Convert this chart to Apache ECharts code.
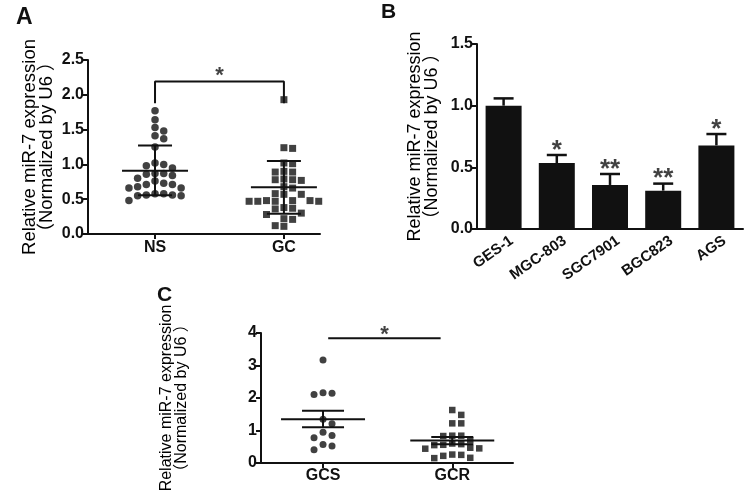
<!DOCTYPE html>
<html><head><meta charset="utf-8">
<script src="https://cdn.jsdelivr.net/npm/echarts@6/dist/echarts.min.js"></script>
<style>html,body{margin:0;padding:0;background:#fff}#c{width:750px;height:502px}</style>
</head><body><div id="c"></div>
<script>
// ---------------- data ----------------
const catsA = ['NS', 'GC'];
const nsValues = [1.77, 1.64, 1.53, 1.48, 1.41, 1.37, 1.25, 1.02, 1.00, 0.98, 0.95, 0.87, 0.87, 0.86, 0.84, 0.80,
  0.76, 0.73, 0.71, 0.71, 0.68, 0.66, 0.66, 0.58, 0.58, 0.56, 0.56, 0.55, 0.55, 0.48];
const gcValues = [1.93, 1.24, 1.23, 1.02, 1.01, 0.90, 0.89, 0.89, 0.79, 0.78, 0.78, 0.77, 0.68, 0.66, 0.58, 0.57,
  0.57, 0.48, 0.48, 0.47, 0.47, 0.47, 0.47, 0.48, 0.38, 0.37, 0.36, 0.30, 0.28, 0.22, 0.21, 0.12, 0.11];
const meanA = [0.91, 0.67];
const lowA = [0.555, 0.29];
const highA = [1.27, 1.05];
const yTicksA = [0, 0.5, 1.0, 1.5, 2.0, 2.5];
const bracketA = [1.88, 2.19];   // leg bottom, bracket top (values)
const starA = '*';

const catsB = ['GES-1', 'MGC-803', 'SGC7901', 'BGC823', 'AGS'];
const barB = [1.0, 0.535, 0.357, 0.311, 0.678];
const errB = [0.059, 0.065, 0.089, 0.057, 0.092];
const starsB = ['', '*', '**', '**', '*'];
const yTicksB = [0, 0.5, 1.0, 1.5];

const catsC = ['GCS', 'GCR'];
const gcsValues = [3.17, 2.16, 2.15, 2.11, 1.35, 1.21, 0.95, 0.85, 0.78, 0.57, 0.52, 0.41];
const gcrValues = [1.63, 1.48, 1.22, 1.22, 0.84, 0.84, 0.83, 0.70, 0.60, 0.58, 0.56, 0.55, 0.47, 0.45, 0.44,
  0.26, 0.25, 0.22, 0.16, 0.15];
const meanC = [1.35, 0.69];
const lowC = [1.10, 0.58];
const highC = [1.61, 0.80];
const yTicksC = [0, 1, 2, 3, 4];
const sigLineC = [1.04, 1.91, 3.84]; // from, to, value
const starC = '*';

const yTitle = 'Relative miR-7 expression\n（Normalized by U6 ）';

// ---------------- layout ----------------
const FONT = "'Liberation Sans', Arial, 'Noto Sans CJK SC', sans-serif";
const INK = '#111';
const GA = {left: 88, top: 60, width: 232, height: 174};
const GB = {left: 477, top: 44, width: 266, height: 185};
const GCg = {left: 261, top: 333, width: 252, height: 130};
const xRangeA = [0.48, 2.28];
const xRangeC = [0.52, 2.47];

function beeswarm(values, gx, pxY, pxX, stepPx, gapPx) {
  const sorted = values.slice().sort((a, b) => b - a);
  const placed = [];
  const out = [];
  sorted.forEach(v => {
    for (let k = 0; k < 40; k++) {
      const col = k === 0 ? 0 : (k % 2 ? Math.ceil(k / 2) : -k / 2);
      const clash = placed.some(q => q.col === col && Math.abs(q.v - v) * pxY < gapPx);
      if (!clash) { placed.push({col, v}); out.push([gx + col * stepPx / pxX, v]); break; }
    }
  });
  return out;
}

const pxYA = GA.height / (yTicksA[yTicksA.length - 1] - yTicksA[0]);
const pxXA = GA.width / (xRangeA[1] - xRangeA[0]);
const pxYC = GCg.height / (yTicksC[yTicksC.length - 1] - yTicksC[0]);
const pxXC = GCg.width / (xRangeC[1] - xRangeC[0]);

function statsRender(halfMean, halfCap, lw) {
  return function (params, api) {
    const x = api.value(0);
    const pm = api.coord([x, api.value(1)]);
    const pl = api.coord([x, api.value(2)]);
    const ph = api.coord([x, api.value(3)]);
    const style = {stroke: INK, lineWidth: lw};
    return {type: 'group', children: [
      {type: 'line', shape: {x1: pm[0] - halfMean, y1: pm[1], x2: pm[0] + halfMean, y2: pm[1]}, style},
      {type: 'line', shape: {x1: pl[0], y1: pl[1], x2: ph[0], y2: ph[1]}, style},
      {type: 'line', shape: {x1: pl[0] - halfCap, y1: pl[1], x2: pl[0] + halfCap, y2: pl[1]}, style},
      {type: 'line', shape: {x1: ph[0] - halfCap, y1: ph[1], x2: ph[0] + halfCap, y2: ph[1]}, style}
    ]};
  };
}

function errRender(params, api) {
  const i = api.value(0);
  const pb = api.coord([i, api.value(1)]);
  const pt = api.coord([i, api.value(2)]);
  const style = {stroke: INK, lineWidth: 2.5};
  return {type: 'group', children: [
    {type: 'line', shape: {x1: pb[0], y1: pb[1], x2: pt[0], y2: pt[1]}, style},
    {type: 'line', shape: {x1: pt[0] - 10, y1: pt[1], x2: pt[0] + 10, y2: pt[1]}, style}
  ]};
}

const axisLine = {show: true, onZero: false, lineStyle: {color: INK, width: 2}};
const tick = {show: true, length: 5, lineStyle: {color: INK, width: 2}};
const tickLabel = {color: INK, fontFamily: FONT, fontWeight: 'bold', fontSize: 16};

function yAx(grid, ticks, fmt, gap, fs) {
  return {
    type: 'value', gridIndex: grid, min: ticks[0], max: ticks[ticks.length - 1],
    interval: ticks[1] - ticks[0], splitLine: {show: false},
    axisLine, axisTick: tick,
    axisLabel: Object.assign({margin: 4, formatter: fmt}, tickLabel),
    name: yTitle, nameLocation: 'middle', nameRotate: 90, nameGap: gap,
    nameTextStyle: {color: '#000', fontFamily: FONT, fontSize: fs, lineHeight: fs - 1}
  };
}
function xVal(grid, range, cats, margin) {
  const vals = cats.map((c, i) => i + 1);
  return {
    type: 'value', gridIndex: grid, min: range[0], max: range[1], splitLine: {show: false},
    axisLine, axisTick: Object.assign({customValues: vals}, tick),
    axisLabel: Object.assign({customValues: vals, margin, formatter: v => cats[Math.round(v) - 1] || ''}, tickLabel)
  };
}

const option = {
  backgroundColor: '#fff',
  animation: false,
  title: [
    {text: 'A', left: 11, top: 1, textStyle: {fontFamily: FONT, fontSize: 23, fontWeight: 'bold', color: INK}},
    {text: 'B', left: 376, top: -3, textStyle: {fontFamily: FONT, fontSize: 21, fontWeight: 'bold', color: INK}},
    {text: 'C', left: 152, top: 280, textStyle: {fontFamily: FONT, fontSize: 21, fontWeight: 'bold', color: INK}}
  ],
  grid: [GA, GB, GCg].map(g => Object.assign({containLabel: false}, g)),
  xAxis: [
    xVal(0, xRangeA, catsA, 6),
    {type: 'category', gridIndex: 1, data: catsB, axisLine, axisTick: {show: false},
      axisLabel: Object.assign({}, tickLabel, {rotate: 35, margin: 16, interval: 0, fontSize: 15,
        padding: [0, -10, 0, 0]})},
    xVal(2, xRangeC, catsC, 5)
  ],
  yAxis: [
    yAx(0, yTicksA, v => v.toFixed(1), 32, 18.5),
    yAx(1, yTicksB, v => v.toFixed(1), 36, 18),
    yAx(2, yTicksC, v => String(v), 72, 16)
  ],
  series: [
    // ---- A ----
    {type: 'scatter', xAxisIndex: 0, yAxisIndex: 0, symbol: 'circle', symbolSize: 7.5,
      itemStyle: {color: INK}, data: beeswarm(nsValues, 1, pxYA, pxXA, 8.7, 7)},
    {type: 'scatter', xAxisIndex: 0, yAxisIndex: 0, symbol: 'rect', symbolSize: 7,
      itemStyle: {color: INK}, data: beeswarm(gcValues, 2, pxYA, pxXA, 8.7, 7)},
    {type: 'custom', xAxisIndex: 0, yAxisIndex: 0, z: 5, renderItem: statsRender(33, 17, 2),
      data: meanA.map((m, i) => [i + 1, m, lowA[i], highA[i]])},
    {type: 'line', xAxisIndex: 0, yAxisIndex: 0, symbol: 'none', lineStyle: {color: INK, width: 2},
      data: [[1, bracketA[0]], [1, bracketA[1]], [2, bracketA[1]], [2, bracketA[0]]]},
    {type: 'scatter', xAxisIndex: 0, yAxisIndex: 0, symbolSize: 1, itemStyle: {color: 'rgba(0,0,0,0)'},
      label: {show: true, position: 'top', distance: -6, formatter: starA, color: INK,
        fontFamily: FONT, fontWeight: 'bold', fontSize: 22},
      data: [[1.5, bracketA[1]]]},
    // ---- B ----
    {type: 'bar', xAxisIndex: 1, yAxisIndex: 1, barWidth: 36, itemStyle: {color: INK}, data: barB},
    {type: 'custom', xAxisIndex: 1, yAxisIndex: 1, z: 5, renderItem: errRender,
      data: barB.map((b, i) => [i, b, b + errB[i]])},
    {type: 'scatter', xAxisIndex: 1, yAxisIndex: 1, symbolSize: 1, itemStyle: {color: 'rgba(0,0,0,0)'},
      label: {show: true, position: 'top', distance: -9, formatter: p => starsB[p.dataIndex], color: INK,
        fontFamily: FONT, fontWeight: 'bold', fontSize: 26},
      data: barB.map((b, i) => [i, b + errB[i]])},
    // ---- C ----
    {type: 'scatter', xAxisIndex: 2, yAxisIndex: 2, symbol: 'circle', symbolSize: 7,
      itemStyle: {color: INK}, data: beeswarm(gcsValues, 1, pxYC, pxXC, 9, 6.5)},
    {type: 'scatter', xAxisIndex: 2, yAxisIndex: 2, symbol: 'rect', symbolSize: 6.5,
      itemStyle: {color: INK}, data: beeswarm(gcrValues, 2, pxYC, pxXC, 9, 6.5)},
    {type: 'custom', xAxisIndex: 2, yAxisIndex: 2, z: 5, renderItem: statsRender(42, 21, 2),
      data: meanC.map((m, i) => [i + 1, m, lowC[i], highC[i]])},
    {type: 'line', xAxisIndex: 2, yAxisIndex: 2, symbol: 'none', lineStyle: {color: INK, width: 2},
      data: [[sigLineC[0], sigLineC[2]], [sigLineC[1], sigLineC[2]]]},
    {type: 'scatter', xAxisIndex: 2, yAxisIndex: 2, symbolSize: 1, itemStyle: {color: 'rgba(0,0,0,0)'},
      label: {show: true, position: 'top', distance: -8, formatter: starC, color: INK,
        fontFamily: FONT, fontWeight: 'bold', fontSize: 22},
      data: [[(sigLineC[0] + sigLineC[1]) / 2, sigLineC[2]]]}
  ]
};
const chart = echarts.init(document.getElementById('c'), null, {renderer: 'canvas'});
chart.setOption(option);
</script></body></html>
